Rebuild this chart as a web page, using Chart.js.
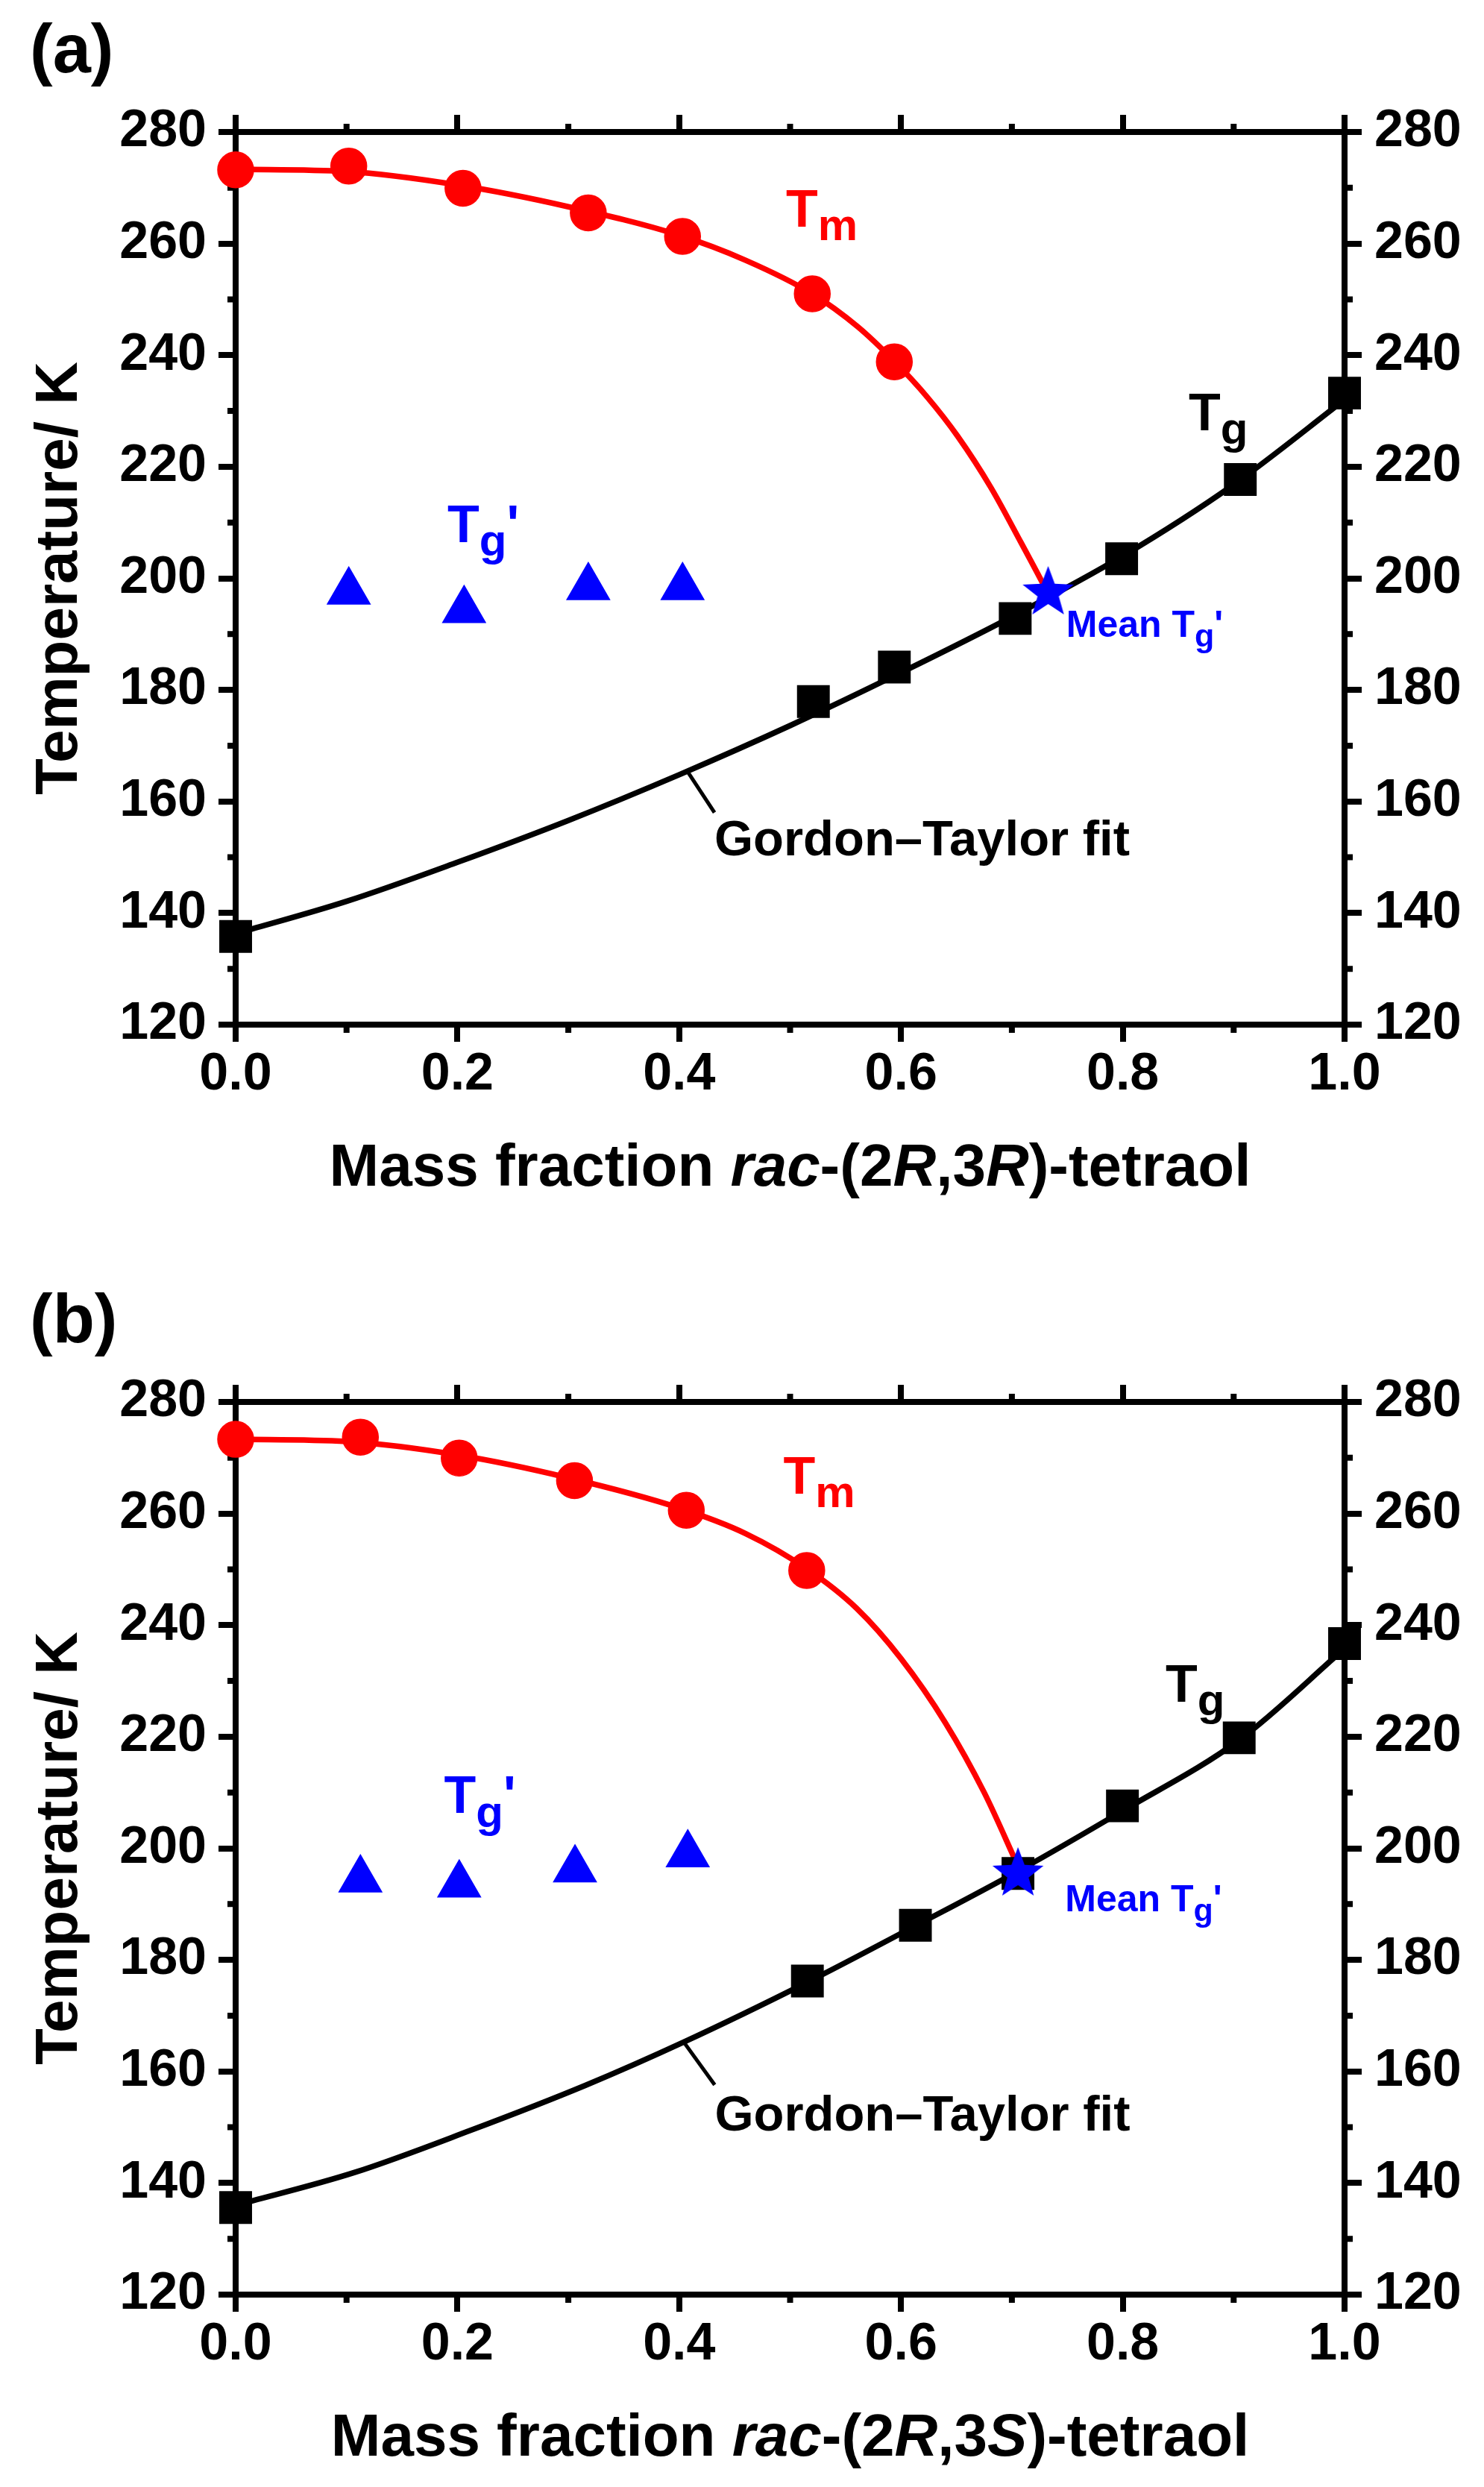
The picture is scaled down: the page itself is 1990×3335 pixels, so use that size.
<!DOCTYPE html>
<html>
<head>
<meta charset="utf-8">
<script src="https://cdn.jsdelivr.net/npm/chart.js@4.4.1/dist/chart.umd.min.js"></script>
<style>
  body { margin: 0; background: #fff; }
  canvas { display: block; }
</style>
</head>
<body>
<canvas id="chart-a" width="1990" height="1703" style="width:1990px;height:1703px"></canvas>
<canvas id="chart-b" width="1990" height="1632" style="width:1990px;height:1632px"></canvas>
<script>
// ---- panel (a): rac-(2R,3R)-tetraol ----
const xTmA = [0, 0.102, 0.205, 0.318, 0.403, 0.520, 0.594];
const tmA = [273.2, 273.9, 269.9, 265.5, 261.3, 251.0, 238.8];
const xTgA = [0, 0.521, 0.594, 0.703, 0.799, 0.906, 1.0];
const tgA = [135.8, 177.9, 184.1, 192.8, 203.5, 217.7, 233.2];
const xTgpA = [0.102, 0.206, 0.318, 0.403];
const tgpA = [197.6, 194.3, 198.4, 198.4];
const xMeanA = [0.7327];
const meanA = [197.8];
const xTmFitA = [0, 0.1, 0.2, 0.3, 0.4, 0.46, 0.52, 0.561, 0.594, 0.624, 0.651, 0.681, 0.708, 0.7276, 0.733];
const tmFitA = [273.3, 272.9, 270.5, 266.6, 261.5, 257.0, 251.0, 245.1, 238.9, 232.4, 225.5, 216.3, 206.5, 199.2, 197.1];
const xGtFitA = [0, 0.1, 0.2, 0.3, 0.4, 0.5, 0.6, 0.7, 0.8, 0.9, 1.0];
const gtFitA = [136.3, 142.1, 149.1, 156.6, 164.8, 173.6, 183.1, 193.1, 204.0, 216.8, 232.0];
const xLeaderA = [0.4074, 0.4318];
const leaderA = [165.4, 158.0];

// ---- panel (b): rac-(2R,3S)-tetraol ----
const xTmB = [0, 0.1125, 0.2016, 0.3056, 0.4064, 0.515];
const tmB = [273.3, 273.7, 269.95, 265.9, 260.6, 249.8];
const xTgB = [0, 0.5156, 0.613, 0.7055, 0.7997, 0.905, 1.0];
const tgB = [135.6, 176.2, 186.2, 195.5, 207.6, 219.8, 236.7];
const xTgpB = [0.1125, 0.2016, 0.306, 0.4077];
const tgpB = [194.4, 193.5, 196.2, 198.9];
const xMeanB = [0.7055];
const meanB = [195.8];
const xTmFitB = [0, 0.1, 0.2, 0.3, 0.4, 0.46, 0.515, 0.56, 0.60, 0.64, 0.675, 0.7055];
const tmFitB = [273.3, 272.9, 270.5, 266.4, 261.0, 256.4, 250.1, 243.0, 234.0, 222.5, 210.0, 196.8];
const xGtFitB = [0, 0.1073, 0.2113, 0.3153, 0.4044, 0.5156, 0.613, 0.7055, 0.7997, 0.905, 1.0];
const gtFitB = [136.0, 141.9, 149.4, 157.5, 165.3, 176.0, 186.1, 195.9, 206.7, 219.4, 235.8];
const xLeaderB = [0.404, 0.432];
const leaderB = [165.3, 157.6];

// axis ticks
const minorX = [0.1, 0.3, 0.5, 0.7, 0.9];
const minorY = [130, 150, 170, 190, 210, 230, 250, 270];

const FONT = "'Liberation Sans', Arial, sans-serif";
const RED = '#ff0000', BLUE = '#0000ff', BLACK = '#000000';

function pts(xs, ys) {
  return xs.map((x, i) => ({ x: x, y: ys[i] }));
}

function starImage(color) {
  const c = document.createElement('canvas');
  c.width = 76; c.height = 76;
  const g = c.getContext('2d');
  g.fillStyle = color;
  g.beginPath();
  for (let i = 0; i < 10; i++) {
    const r = i % 2 ? 15 : 36;
    const a = -Math.PI / 2 + i * Math.PI / 5;
    g.lineTo(38 + r * Math.cos(a), 41 + r * Math.sin(a));
  }
  g.closePath();
  g.fill();
  return c;
}
const starImg = starImage(BLUE);

// minor ticks on all four sides
const minorTicks = {
  id: 'minorTicks',
  beforeDatasetsDraw(chart) {
    const ctx = chart.ctx, ca = chart.chartArea;
    const sx = chart.scales.x, sy = chart.scales.y;
    ctx.save();
    ctx.strokeStyle = BLACK;
    ctx.lineWidth = 8;
    ctx.beginPath();
    minorX.forEach(v => {
      const px = sx.getPixelForValue(v);
      ctx.moveTo(px, ca.bottom); ctx.lineTo(px, ca.bottom + 11);
      ctx.moveTo(px, ca.top); ctx.lineTo(px, ca.top - 11);
    });
    minorY.forEach(v => {
      const py = sy.getPixelForValue(v);
      ctx.moveTo(ca.left, py); ctx.lineTo(ca.left - 11, py);
      ctx.moveTo(ca.right, py); ctx.lineTo(ca.right + 11, py);
    });
    ctx.stroke();
    ctx.restore();
  }
};

// text labels, subscripts, axis title with italics, panel letter
const textLabels = {
  id: 'textLabels',
  afterDraw(chart, args, opts) {
    const ctx = chart.ctx, ca = chart.chartArea;
    const sx = chart.scales.x, sy = chart.scales.y;
    ctx.save();
    ctx.textBaseline = 'alphabetic';
    ctx.textAlign = 'left';
    opts.labels.forEach(lb => {
      let x = sx.getPixelForValue(lb.x);
      const y = sy.getPixelForValue(lb.y);
      ctx.fillStyle = lb.color;
      lb.parts.forEach(p => {
        const sub = p[1] === 'sub';
        const size = sub ? Math.round(lb.size * 0.85) : lb.size;
        ctx.font = 'bold ' + size + 'px ' + FONT;
        ctx.fillText(p[0], x, y + (sub ? lb.size * 0.26 : 0));
        x += ctx.measureText(p[0]).width;
      });
    });
    // x axis title
    ctx.fillStyle = BLACK;
    const segs = opts.xTitle;
    let total = 0;
    segs.forEach(s => {
      ctx.font = (s[1] ? 'italic ' : '') + 'bold 80px ' + FONT;
      total += ctx.measureText(s[0]).width;
    });
    let tx = (ca.left + ca.right) / 2 - total / 2;
    segs.forEach(s => {
      ctx.font = (s[1] ? 'italic ' : '') + 'bold 80px ' + FONT;
      ctx.fillText(s[0], tx, ca.bottom + 216);
      tx += ctx.measureText(s[0]).width;
    });
    // panel letter
    ctx.font = 'bold 92px ' + FONT;
    ctx.fillText(opts.letter, 40, ca.top - 80);
    ctx.restore();
  }
};

function makePanel(id, d) {
  const canvas = document.getElementById(id);
  const H = canvas.height;
  const tickFont = { family: FONT, size: 70, weight: 'bold' };
  const gridOpts = { drawOnChartArea: false, drawTicks: true, tickLength: 23, lineWidth: 8, tickWidth: 8, color: BLACK, tickColor: BLACK };
  const borderOpts = { display: true, width: 8, color: BLACK };
  return new Chart(canvas, {
    type: 'scatter',
    data: {
      datasets: [
        { label: "Mean Tg'", data: pts(d.xMean, d.mean), pointStyle: starImg, pointRadius: 36, showLine: false, order: 0 },
        { label: 'Tm', data: pts(d.xTm, d.tm), pointStyle: 'circle', pointRadius: 24, backgroundColor: RED, borderColor: RED, borderWidth: 1.5, showLine: false, order: 1 },
        { label: 'Tg', data: pts(d.xTg, d.tg), pointStyle: 'rect', pointRadius: 30, backgroundColor: BLACK, borderColor: BLACK, borderWidth: 1.5, showLine: false, order: 1 },
        { label: "Tg'", data: pts(d.xTgp, d.tgp), pointStyle: 'triangle', pointRadius: 33, backgroundColor: BLUE, borderColor: BLUE, borderWidth: 1.5, showLine: false, order: 1 },
        { label: 'Tm fit', data: pts(d.xTmFit, d.tmFit), showLine: true, pointRadius: 0, borderColor: RED, borderWidth: 7.5, cubicInterpolationMode: 'monotone', order: 5 },
        { label: 'Gordon–Taylor fit', data: pts(d.xGtFit, d.gtFit), showLine: true, pointRadius: 0, borderColor: BLACK, borderWidth: 7.5, cubicInterpolationMode: 'monotone', order: 5 },
        { label: 'leader', data: pts(d.xLeader, d.leader), showLine: true, pointRadius: 0, borderColor: BLACK, borderWidth: 5, order: 5 }
      ]
    },
    options: {
      responsive: false,
      animation: false,
      devicePixelRatio: 1,
      events: [],
      layout: { padding: 0 },
      datasets: { scatter: { clip: false } },
      scales: {
        x: {
          type: 'linear', position: 'bottom', min: 0, max: 1,
          ticks: { stepSize: 0.2, color: BLACK, font: tickFont, padding: 3, callback: v => v.toFixed(1) },
          grid: gridOpts, border: borderOpts,
          afterFit: s => { s.height = H - 1374; }
        },
        xTop: {
          type: 'linear', position: 'top', min: 0, max: 1,
          ticks: { stepSize: 0.2, display: false },
          grid: gridOpts, border: borderOpts,
          afterFit: s => { s.height = 177; }
        },
        y: {
          type: 'linear', position: 'left', min: 120, max: 280,
          ticks: { stepSize: 20, color: BLACK, font: tickFont, padding: 16 },
          grid: gridOpts, border: borderOpts,
          title: { display: true, text: 'Temperature/ K', color: BLACK, font: { family: FONT, size: 80, weight: 'bold' }, padding: { top: 33, bottom: 0 } },
          afterFit: s => { s.width = 316; }
        },
        y2: {
          type: 'linear', position: 'right', min: 120, max: 280,
          ticks: { stepSize: 20, color: BLACK, font: tickFont, padding: 17 },
          grid: gridOpts, border: borderOpts,
          afterFit: s => { s.width = 1990 - 1803; }
        }
      },
      plugins: {
        legend: { display: false },
        tooltip: { enabled: false },
        textLabels: { labels: d.labels, xTitle: d.xTitle, letter: d.letter }
      }
    },
    plugins: [minorTicks, textLabels]
  });
}

makePanel('chart-a', {
  xTm: xTmA, tm: tmA, xTg: xTgA, tg: tgA, xTgp: xTgpA, tgp: tgpA,
  xMean: xMeanA, mean: meanA, xTmFit: xTmFitA, tmFit: tmFitA,
  xGtFit: xGtFitA, gtFit: gtFitA, xLeader: xLeaderA, leader: leaderA,
  letter: '(a)',
  xTitle: [['Mass fraction ', false], ['rac', true], ['-(2', false], ['R', true], [',3', false], ['R', true], [')-tetraol', false]],
  labels: [
    { x: 0.4963, y: 263.0, color: RED, size: 70, parts: [['T'], ['m', 'sub']] },
    { x: 0.8594, y: 226.5, color: BLACK, size: 70, parts: [['T'], ['g', 'sub']] },
    { x: 0.191, y: 206.5, color: BLUE, size: 70, parts: [['T'], ['g', 'sub'], ["'"]] },
    { x: 0.749, y: 189.5, color: BLUE, size: 50, parts: [['Mean T'], ['g', 'sub'], ["'"]] },
    { x: 0.4317, y: 150.3, color: BLACK, size: 67, parts: [['Gordon–Taylor fit']] }
  ]
});

makePanel('chart-b', {
  xTm: xTmB, tm: tmB, xTg: xTgB, tg: tgB, xTgp: xTgpB, tgp: tgpB,
  xMean: xMeanB, mean: meanB, xTmFit: xTmFitB, tmFit: tmFitB,
  xGtFit: xGtFitB, gtFit: gtFitB, xLeader: xLeaderB, leader: leaderB,
  letter: '(b)',
  xTitle: [['Mass fraction ', false], ['rac', true], ['-(2', false], ['R', true], [',3', false], ['S', true], [')-tetraol', false]],
  labels: [
    { x: 0.494, y: 263.6, color: RED, size: 70, parts: [['T'], ['m', 'sub']] },
    { x: 0.8386, y: 226.3, color: BLACK, size: 70, parts: [['T'], ['g', 'sub']] },
    { x: 0.188, y: 206.3, color: BLUE, size: 70, parts: [['T'], ['g', 'sub'], ["'"]] },
    { x: 0.748, y: 188.7, color: BLUE, size: 50, parts: [['Mean T'], ['g', 'sub'], ["'"]] },
    { x: 0.432, y: 149.4, color: BLACK, size: 67, parts: [['Gordon–Taylor fit']] }
  ]
});
</script>
</body>
</html>
